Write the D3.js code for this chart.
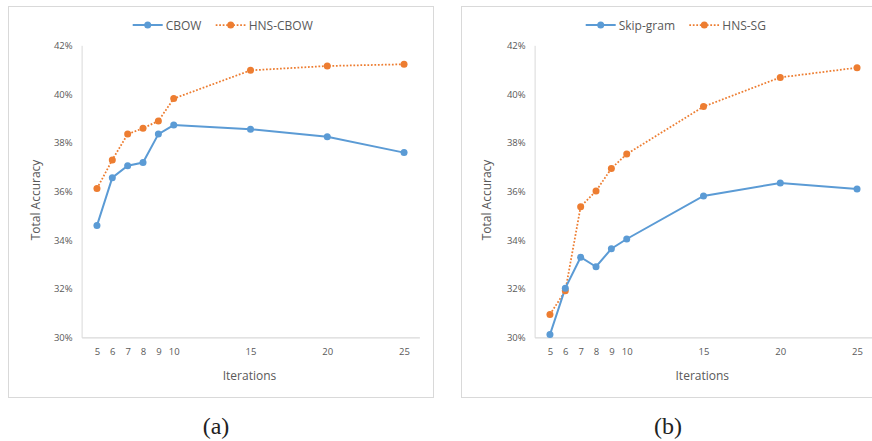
<!DOCTYPE html>
<html>
<head>
<meta charset="utf-8">
<script src="https://cdn.jsdelivr.net/npm/d3@7"></script>
<style>
  html, body { margin: 0; padding: 0; background: #fff; }
  svg { display: block; }
</style>
</head>
<body>
<svg id="chart" width="872" height="441"></svg>
<script>
// ---- Data ----
const iterations = [5, 6, 7, 8, 9, 10, 15, 20, 25];
const cbow      = [34.59, 36.56, 37.05, 37.18, 38.35, 38.72, 38.55, 38.24, 37.59];
const hnsCbow   = [36.11, 37.29, 38.35, 38.59, 38.89, 39.81, 40.97, 41.15, 41.22];
const skipGram  = [30.11, 32.02, 33.29, 32.90, 33.64, 34.04, 35.81, 36.34, 36.09];
const hnsSg     = [30.94, 31.91, 35.37, 36.01, 36.94, 37.53, 39.48, 40.68, 41.08];
const yTicks    = [30, 32, 34, 36, 38, 40, 42];
const xTicks    = iterations;
const panelAName = ["CBOW", "HNS-CBOW"];
const panelBName = ["Skip-gram", "HNS-SG"];
const captions  = ["(a)", "(b)"];

const BLUE = "#5B9BD5", ORANGE = "#ED7D31", TEXT = "#595959", GRID = "#D9D9D9";
const FONT = "'Open Sans', 'Segoe UI', sans-serif";

const svg = d3.select("#chart");

const panels = [
  { box: [8.5, 6.5, 425, 391], xr: [81.6, 419.4], names: panelAName, s1: cbow, s2: hnsCbow,
    legend: { l1: 132.7, l2: 215.7 }, yTitleX: 35, caption: captions[0], capX: 216 },
  { box: [461.5, 6.5, 440, 391], xr: [534.6, 872.4], names: panelBName, s1: skipGram, s2: hnsSg,
    legend: { l1: 585.7, l2: 689.3 }, yTitleX: 486, caption: captions[1], capX: 668 }
];

panels.forEach(p => {
  const g = svg.append("g");
  g.append("rect")
    .attr("x", p.box[0]).attr("y", p.box[1]).attr("width", p.box[2]).attr("height", p.box[3])
    .attr("fill", "none").attr("stroke", GRID).attr("stroke-width", 1);

  const x = d3.scaleLinear().domain([4, 26]).range(p.xr);
  const y = d3.scaleLinear().domain([30, 42]).range([337.3, 45.3]);

  // y axis
  const ya = g.append("g").attr("transform", `translate(${p.xr[0]},0)`)
    .call(d3.axisLeft(y).tickValues(yTicks).tickSize(0).tickPadding(9).tickFormat(d => d + "%"));
  ya.select(".domain").attr("stroke", GRID).attr("stroke-width", 1);
  ya.selectAll("text").attr("fill", TEXT).attr("font-family", FONT).attr("font-size", "9.5px");

  // x axis
  const xa = g.append("g").attr("transform", `translate(0,${y(30)})`)
    .call(d3.axisBottom(x).tickValues(xTicks).tickSize(0).tickPadding(11).tickFormat(d3.format("d")));
  xa.select(".domain").attr("stroke", GRID).attr("stroke-width", 1.3);
  xa.selectAll("text").attr("fill", TEXT).attr("font-family", FONT).attr("font-size", "9.5px");

  // axis titles
  g.append("text")
    .attr("x", (p.xr[0] + Math.min(p.xr[1], 872)) / 2 - 1).attr("y", 375)
    .attr("text-anchor", "middle").attr("dominant-baseline", "central")
    .attr("fill", TEXT).attr("font-family", FONT).attr("font-size", "12px").text("Iterations");
  g.append("text")
    .attr("transform", `translate(${p.yTitleX},200) rotate(-90)`)
    .attr("text-anchor", "middle").attr("dominant-baseline", "central")
    .attr("fill", TEXT).attr("font-family", FONT).attr("font-size", "12px").text("Total Accuracy");

  const line = d3.line().x((d, i) => x(iterations[i])).y(d => y(d));

  // series 2 (orange dotted)
  g.append("path").datum(p.s2).attr("d", line).attr("fill", "none")
    .attr("stroke", ORANGE).attr("stroke-width", 1.75).attr("stroke-dasharray", "1.75,1.75");
  // series 1 (blue solid)
  g.append("path").datum(p.s1).attr("d", line).attr("fill", "none")
    .attr("stroke", BLUE).attr("stroke-width", 2);

  g.selectAll(".m2").data(p.s2).enter().append("circle")
    .attr("cx", (d, i) => x(iterations[i])).attr("cy", d => y(d)).attr("r", 3.5).attr("fill", ORANGE);
  g.selectAll(".m1").data(p.s1).enter().append("circle")
    .attr("cx", (d, i) => x(iterations[i])).attr("cy", d => y(d)).attr("r", 3.5).attr("fill", BLUE);

  // legend
  const ly = 25;
  const L = p.legend;
  g.append("line").attr("x1", L.l1).attr("x2", L.l1 + 30).attr("y1", ly).attr("y2", ly)
    .attr("stroke", BLUE).attr("stroke-width", 2);
  g.append("circle").attr("cx", L.l1 + 15).attr("cy", ly).attr("r", 3.5).attr("fill", BLUE);
  g.append("text").attr("x", L.l1 + 33).attr("y", ly).attr("dominant-baseline", "central")
    .attr("fill", TEXT).attr("font-family", FONT).attr("font-size", "12px").text(p.names[0]);

  g.append("line").attr("x1", L.l2).attr("x2", L.l2 + 30).attr("y1", ly).attr("y2", ly)
    .attr("stroke", ORANGE).attr("stroke-width", 1.75).attr("stroke-dasharray", "1.75,1.75");
  g.append("circle").attr("cx", L.l2 + 15).attr("cy", ly).attr("r", 3.5).attr("fill", ORANGE);
  g.append("text").attr("x", L.l2 + 33).attr("y", ly).attr("dominant-baseline", "central")
    .attr("fill", TEXT).attr("font-family", FONT).attr("font-size", "12px").text(p.names[1]);

  // caption
  g.append("text").attr("x", p.capX).attr("y", 426).attr("text-anchor", "middle")
    .attr("dominant-baseline", "central").attr("fill", "#222")
    .attr("font-family", "'Liberation Serif', 'DejaVu Serif', serif").attr("font-size", "24px")
    .text(p.caption);
});
</script>
</body>
</html>
